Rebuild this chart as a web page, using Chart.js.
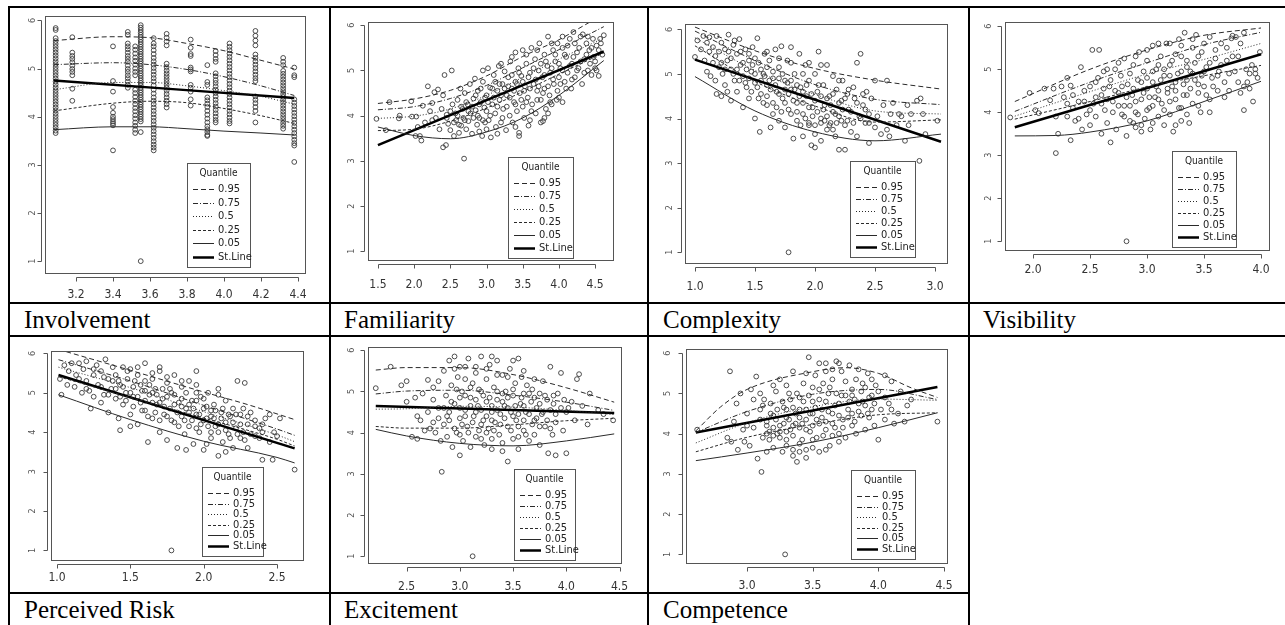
<!DOCTYPE html>
<html><head><meta charset="utf-8">
<script src="https://cdn.jsdelivr.net/npm/chart.js@4/dist/chart.umd.min.js"></script>
<style>
html,body{margin:0;padding:0;background:#fff;}
#page{position:relative;width:1285px;height:625px;overflow:hidden;background:#fff;}
.hl{position:absolute;height:2px;background:#000;}
.vl{position:absolute;width:2px;background:#000;}
.cap{position:absolute;font-family:"Liberation Serif","Times New Roman",serif;font-size:25px;line-height:25px;color:#000;white-space:nowrap;}
canvas{position:absolute;}
</style></head>
<body><div id="page"></div>
<script>
// ---------- labels & ticks ----------
const captions = ['Involvement','Familiarity','Complexity','Visibility','Perceived Risk','Excitement','Competence'];
const quantileLabels = ['0.95','0.75','0.5','0.25','0.05','St.Line'];
const yTicks = [1,2,3,4,5,6];
const invXTicks = [3.2,3.4,3.6,3.8,4.0,4.2,4.4];
const famXTicks = [1.5,2.0,2.5,3.0,3.5,4.0,4.5];
const cpxXTicks = [1.0,1.5,2.0,2.5,3.0];
const visXTicks = [2.0,2.5,3.0,3.5,4.0];
const prXTicks = [1.0,1.5,2.0,2.5];
const excXTicks = [2.5,3.0,3.5,4.0,4.5];
const cmpXTicks = [3.0,3.5,4.0,4.5];

// ---------- Involvement (discrete x stripes: [x, [y...]]) ----------
const involvementStripes = [
 [3.09,[5.84,5.8,5.63,5.57,5.51,5.45,5.39,5.33,5.27,5.21,5.15,5.09,5.03,4.97,4.91,4.85,4.79,4.73,4.67,4.61,4.55,4.49,4.43,4.37,4.31,4.25,4.19,4.13,4.07,4.01,3.95,3.89,3.83,3.77,3.71,3.66]],
 [3.18,[5.65,5.33,5.26,5.2,5.13,5.06,4.99,4.93,4.86,4.58,4.33]],
 [3.40,[5.46,4.74,4.52,4.2,4.08,4.0,3.95,3.9,3.86,3.82,3.3]],
 [3.48,[5.76,5.7,5.52,5.46,5.4,5.33,5.26,5.2,5.14,5.06,4.99,4.93,4.86,4.8,4.73,4.66,4.6]],
 [3.52,[5.46,5.39,5.31,5.23,5.16,5.08,5.0,4.93,4.86,4.56,4.49,4.41,4.33,4.26,4.18,4.11,4.03,3.96,3.88,3.81,3.73,3.66]],
 [3.55,[5.9,5.85,5.8,5.75,5.7,5.65,5.6,5.55,5.5,5.45,5.4,5.35,5.3,5.25,5.2,5.15,5.1,5.05,5.0,4.95,4.9,4.85,4.8,4.75,4.7,4.65,4.6,4.55,4.5,4.45,4.4,4.35,4.3,4.25,4.2,4.15,4.1,4.05,4.0,3.95,3.9,3.68,1.0]],
 [3.62,[5.63,5.52,5.46,5.38,5.3,5.22,5.15,5.08,5.01,4.94,4.87,4.8,4.73,4.65,4.56,4.48,4.4,4.33,4.26,4.19,4.12,4.05,3.98,3.91,3.84,3.77,3.7,3.63,3.56,3.49,3.42,3.36,3.3]],
 [3.69,[5.72,5.64,5.56,5.48,5.1,5.03,4.96,4.9,4.84,4.78,4.72,4.66,4.6,4.54,4.47,4.4,4.33,4.26,4.19]],
 [3.82,[5.6,5.43,5.3,5.26,5.02,4.98,4.94,4.66,4.6,4.52,4.36,4.23]],
 [3.91,[5.07,4.72,4.66,4.4,4.34,4.27,4.2,4.12,4.04,3.96,3.88,3.8,3.74,3.68,3.62,3.6]],
 [3.955,[5.36,5.28,5.2,5.14,4.9,4.84,4.76,4.7,4.63,4.56,4.49,4.42,4.35,4.28,4.21,4.14,4.07,4.0,3.93,3.88]],
 [4.03,[5.52,5.45,5.38,5.31,5.24,5.17,5.1,5.03,4.96,4.89,4.82,4.75,4.68,4.61,4.54,4.47,4.4,4.33,4.26,4.19,4.12,4.05,3.98,3.91,3.86]],
 [4.17,[5.78,5.68,5.58,5.48,5.29,5.22,5.15,5.08,5.01,4.94,4.87,4.8,4.74,4.42,4.35,4.28,4.2,4.12,3.88]],
 [4.32,[5.22,5.14,5.07,4.95,4.89,4.83,4.77,4.71,4.65,4.59,4.53,4.47,4.41,4.35,4.29,4.23,4.17,4.11,4.05,3.99,3.93,3.87,3.81,3.75]],
 [4.38,[5.02,4.86,4.82,4.36,4.29,4.22,4.15,4.08,4.01,3.94,3.87,3.8,3.73,3.66,3.59,3.52,3.45,3.4,3.06]]
];
const invQ95 = [[3.08,5.58],[3.4,5.66],[3.6,5.64],[3.8,5.52],[4.0,5.37],[4.2,5.17],[4.38,4.99]];
const invQ75 = [[3.08,5.08],[3.4,5.12],[3.6,5.08],[3.8,4.98],[4.0,4.83],[4.2,4.64],[4.38,4.44]];
const invQ50 = [[3.08,4.56],[3.4,4.71],[3.6,4.71],[3.8,4.64],[4.0,4.54],[4.2,4.42],[4.38,4.26]];
const invQ25 = [[3.08,4.12],[3.4,4.28],[3.6,4.32],[3.8,4.29],[4.0,4.17],[4.2,4.02],[4.38,3.86]];
const invQ05 = [[3.08,3.73],[3.4,3.79],[3.6,3.79],[3.8,3.75],[4.0,3.7],[4.2,3.66],[4.38,3.62]];
const invSt  = [[3.08,4.75],[4.38,4.39]];

// ---------- Familiarity ----------
const famPoints = [[1.48,3.93],[1.61,3.68],[1.66,4.3],[1.79,3.94],[1.8,4.0],[1.96,4.32],[1.97,3.98],[2.02,3.55],[2.03,3.98],[2.05,3.75],[2.08,3.55],[2.1,3.45],[2.12,4.22],[2.15,3.85],[2.19,4.65],[2.22,4.1],[2.25,4.28],[2.25,3.9],[2.28,4.52],[2.3,3.95],[2.33,4.58],[2.35,3.7],[2.38,4.15],[2.4,4.45],[2.42,4.9],[2.4,3.3],[2.44,3.35],[2.45,4.02],[2.47,3.82],[2.5,3.68],[2.52,5.0],[2.53,4.25],[2.55,3.55],[2.57,4.05],[2.58,3.9],[2.6,4.35],[2.62,3.62],[2.69,3.05],[2.64,4.6],[2.65,3.78],[2.67,4.15],[2.68,3.95],[2.7,4.5],[2.72,3.7],[2.74,4.25],[2.75,3.88],[2.77,4.7],[2.78,4.05],[2.8,3.6],[2.82,4.38],[2.84,4.82],[2.85,4.12],[2.87,3.8],[2.88,4.55],[2.9,3.95],[2.92,4.3],[2.94,3.55],[2.95,4.75],[2.95,5.0],[2.97,4.18],[2.98,3.85],[3.0,4.45],[3.02,5.05],[3.03,3.9],[3.05,4.62],[3.06,3.52],[3.08,4.25],[3.1,4.9],[3.12,4.05],[3.13,3.75],[3.15,4.55],[3.17,5.1],[3.18,4.35],[3.2,3.85],[3.22,4.7],[3.23,4.15],[3.25,4.98],[3.27,3.68],[3.28,4.45],[3.3,4.85],[3.32,4.0],[3.33,5.2],[3.35,4.6],[3.36,3.85],[3.38,4.3],[3.4,5.4],[3.4,4.75],[3.42,4.1],[3.44,5.05],[3.45,3.62],[3.45,3.55],[3.46,4.5],[3.48,4.88],[3.5,5.45],[3.5,4.2],[3.52,3.95],[3.53,4.65],[3.55,5.15],[3.57,4.4],[3.58,3.78],[3.6,4.95],[3.62,5.5],[3.63,4.25],[3.65,4.7],[3.67,5.25],[3.68,4.05],[3.7,4.55],[3.72,5.0],[3.73,5.6],[3.75,4.35],[3.75,3.85],[3.77,4.85],[3.78,3.88],[3.8,5.35],[3.8,4.6],[3.8,3.95],[3.82,4.15],[3.84,5.1],[3.85,5.75],[3.87,4.45],[3.88,4.95],[3.9,4.25],[3.92,5.45],[3.93,4.7],[3.95,5.2],[3.97,4.35],[3.98,5.6],[4.0,4.85],[4.02,5.05],[4.05,4.3],[4.05,5.5],[4.08,4.75],[4.1,5.3],[4.12,4.95],[4.15,5.7],[4.17,4.6],[4.18,5.15],[4.2,5.85],[4.22,4.85],[4.25,5.4],[4.27,5.05],[4.3,5.75],[4.32,4.7],[4.35,5.25],[4.38,5.6],[4.4,5.0],[4.42,5.45],[4.45,4.9],[4.47,5.7],[4.5,5.2],[4.5,5.05],[4.52,5.55],[4.55,4.88],[4.57,5.7],[4.6,5.35],[4.62,5.78],
 [2.45,3.95],[2.5,4.1],[2.55,3.85],[2.6,4.0],[2.62,3.8],[2.65,4.2],[2.7,3.9],[2.72,4.3],[2.75,4.1],[2.8,4.2],[2.82,3.95],[2.85,4.45],[2.88,4.0],[2.9,4.25],[2.92,4.6],[2.95,3.9],[2.98,4.4],[3.0,4.1],[3.0,3.7],[3.02,4.3],[3.05,4.0],[3.08,4.6],[3.1,4.4],[3.12,4.75],[3.15,4.2],[3.18,4.7],[3.2,4.45],[3.22,3.95],[3.25,4.6],[3.28,4.2],[3.3,4.65],[3.32,4.4],[3.35,4.9],[3.38,4.55],[3.4,4.25],[3.42,4.7],[3.45,4.95],[3.48,4.35],[3.5,4.75],[3.52,4.55],[3.55,4.3],[3.58,4.85],[3.6,4.6],[3.62,4.1],[3.65,5.05],[3.68,4.8],[3.7,4.35],[3.72,4.65],[3.75,5.15],[3.78,4.5],[3.8,4.9],[3.82,5.2],[3.85,4.65],[3.88,4.3],[3.9,5.05],[3.92,4.8],[3.95,5.35],[3.98,4.55],[4.0,5.15],[4.02,4.7],[4.05,5.0],[4.08,5.35],[4.1,4.6],[4.12,5.55],[4.15,5.1],[4.18,4.8],[4.2,5.3],[4.22,5.6],[4.25,5.0],[4.28,5.5],[4.3,5.2],[4.33,5.8],[4.35,4.95],[4.38,5.35],[4.4,5.75],[4.43,5.15],[4.45,5.5],[4.48,5.3],[4.52,5.0],[4.55,5.45],[4.58,5.6],[3.2,5.15],[3.35,5.3],[3.55,5.35],[3.7,5.45],[3.9,5.6],[4.05,5.75],[3.6,3.9],[3.4,3.75],[3.15,3.6],[2.9,3.65],[3.85,4.05],[4.0,4.4]];
const famQ95 = [[1.5,4.27],[2.0,4.37],[2.5,4.56],[3.0,4.88],[3.5,5.31],[4.0,5.68],[4.35,6.0],[4.62,6.25]];
const famQ75 = [[1.5,4.13],[2.0,4.2],[2.5,4.38],[3.0,4.67],[3.5,5.06],[4.0,5.46],[4.62,5.97]];
const famQ50 = [[1.5,3.94],[2.0,3.99],[2.5,4.15],[3.0,4.45],[3.5,4.85],[4.0,5.25],[4.62,5.72]];
const famQ25 = [[1.5,3.67],[2.0,3.7],[2.5,3.88],[3.0,4.17],[3.5,4.53],[4.0,4.92],[4.62,5.39]];
const famQ05 = [[1.5,3.75],[2.0,3.56],[2.5,3.49],[3.0,3.64],[3.5,3.95],[4.0,4.45],[4.62,5.22]];
const famSt  = [[1.5,3.35],[4.62,5.42]];

// ---------- Complexity ----------
const cpxPoints = [[1.0,5.38],[1.02,5.75],[1.05,5.55],[1.07,5.85],[1.08,5.3],[1.1,5.7],[1.1,5.05],[1.12,5.82],[1.13,4.95],[1.15,5.6],[1.17,5.4],[1.18,5.85],[1.18,4.55],[1.2,5.15],[1.22,5.7],[1.22,4.5],[1.23,5.0],[1.25,5.55],[1.25,4.75],[1.27,5.3],[1.28,5.88],[1.3,4.4],[1.3,5.1],[1.32,5.65],[1.33,4.85],[1.35,5.45],[1.35,4.6],[1.37,5.78],[1.38,5.2],[1.4,4.95],[1.4,4.25],[1.42,5.55],[1.43,4.7],[1.45,5.3],[1.45,4.45],[1.47,5.05],[1.48,5.6],[1.5,4.8],[1.5,4.0],[1.52,5.8],[1.53,5.25],[1.54,3.7],[1.55,4.55],[1.57,5.0],[1.58,5.45],[1.6,4.3],[1.6,4.75],[1.62,5.3],[1.63,3.8],[1.65,4.9],[1.65,4.1],[1.67,5.55],[1.68,4.6],[1.7,5.15],[1.7,3.95],[1.72,5.62],[1.73,4.45],[1.75,4.85],[1.75,3.8],[1.77,5.3],[1.78,4.2],[1.78,1.0],[1.8,5.6],[1.8,4.65],[1.82,3.55],[1.83,5.0],[1.85,4.35],[1.85,3.95],[1.87,5.45],[1.88,4.7],[1.9,3.6],[1.9,4.1],[1.92,5.2],[1.93,4.5],[1.95,3.85],[1.95,4.85],[1.95,5.25],[1.97,3.4],[1.98,4.25],[2.0,5.0],[2.0,3.65],[2.0,3.35],[2.02,4.6],[2.03,5.5],[2.05,4.0],[2.05,3.5],[2.07,4.75],[2.08,4.3],[2.1,5.2],[2.1,3.75],[2.12,4.5],[2.13,3.9],[2.15,4.95],[2.15,4.15],[2.17,3.6],[2.18,4.65],[2.2,4.05],[2.2,4.85],[2.22,4.4],[2.23,4.85],[2.25,3.85],[2.2,3.3],[2.25,3.3],[2.27,4.55],[2.28,4.2],[2.3,3.7],[2.32,4.7],[2.33,4.45],[2.35,5.25],[2.35,3.6],[2.37,4.05],[2.38,5.45],[2.4,4.3],[2.42,3.9],[2.43,4.6],[2.45,3.45],[2.45,4.1],[2.47,4.45],[2.5,3.8],[2.5,4.85],[2.52,4.05],[2.55,3.65],[2.57,4.3],[2.6,4.85],[2.6,3.75],[2.62,3.6],[2.63,4.1],[2.65,4.35],[2.68,3.85],[2.7,4.1],[2.72,4.05],[2.75,3.5],[2.77,4.3],[2.78,3.85],[2.8,4.1],[2.85,4.4],[2.87,3.05],[2.88,4.45],[2.9,4.1],[2.92,3.65],[3.02,3.95],
 [1.12,5.5],[1.15,5.25],[1.17,4.85],[1.2,5.5],[1.22,5.25],[1.25,5.1],[1.27,4.6],[1.28,5.5],[1.3,5.35],[1.32,5.0],[1.33,5.75],[1.35,5.1],[1.37,4.85],[1.38,5.5],[1.4,5.25],[1.42,4.8],[1.43,5.1],[1.45,5.45],[1.45,4.9],[1.47,4.6],[1.48,5.2],[1.5,5.0],[1.5,5.35],[1.52,4.7],[1.53,4.45],[1.55,5.1],[1.55,4.85],[1.57,4.35],[1.58,4.95],[1.6,5.15],[1.6,4.5],[1.62,4.85],[1.63,4.65],[1.65,4.35],[1.65,5.05],[1.67,4.75],[1.68,4.25],[1.7,4.9],[1.7,4.55],[1.72,4.15],[1.73,5.0],[1.75,4.65],[1.75,4.35],[1.77,4.8],[1.78,4.55],[1.8,4.1],[1.8,4.85],[1.82,4.4],[1.83,4.65],[1.85,4.75],[1.85,4.15],[1.87,4.5],[1.88,3.85],[1.9,4.6],[1.9,4.35],[1.92,4.0],[1.93,4.75],[1.95,4.25],[1.95,3.9],[1.97,4.55],[1.98,4.05],[2.0,4.4],[2.0,3.85],[2.02,4.15],[2.03,4.75],[2.05,4.5],[2.05,3.9],[2.07,4.2],[2.08,3.95],[2.1,4.45],[2.1,4.05],[2.12,3.85],[2.13,4.3],[2.15,3.75],[2.15,4.55],[2.17,4.1],[2.18,3.9],[2.2,4.35],[2.22,3.95],[2.23,4.2],[2.25,4.45],[2.27,3.95],[2.28,4.65],[2.3,4.15],[2.32,3.9],[2.35,4.35],[2.38,4.0],[2.4,4.55],[2.42,4.2],[2.45,3.9],[1.6,5.5],[1.7,5.35],[1.8,5.25],[1.9,5.0],[2.05,5.2]];
const cpxQ95 = [[1.0,6.05],[1.5,5.52],[2.0,5.12],[2.5,4.86],[3.05,4.66]];
const cpxQ75 = [[1.0,5.96],[1.5,5.3],[2.0,4.76],[2.5,4.43],[3.05,4.31]];
const cpxQ50 = [[1.0,5.81],[1.5,5.08],[2.0,4.54],[2.5,4.17],[3.05,4.1]];
const cpxQ25 = [[1.0,5.63],[1.5,4.83],[2.0,4.28],[2.5,3.92],[3.05,3.97]];
const cpxQ05 = [[1.0,4.94],[1.5,4.17],[2.0,3.7],[2.5,3.5],[3.05,3.65]];
const cpxSt  = [[1.0,5.32],[3.05,3.48]];

// ---------- Visibility ----------
const visPoints = [[1.8,3.88],[1.97,4.45],[2.02,4.05],[2.05,3.98],[2.1,4.55],[2.15,4.28],[2.18,4.55],[2.2,3.9],[2.2,3.05],[2.22,3.5],[2.25,4.6],[2.27,4.35],[2.3,4.8],[2.3,3.9],[2.33,3.35],[2.33,4.62],[2.35,4.1],[2.37,3.8],[2.4,4.25],[2.42,5.05],[2.43,3.6],[2.45,4.5],[2.47,3.95],[2.5,4.6],[2.5,3.7],[2.52,5.45],[2.53,4.2],[2.55,3.9],[2.57,4.8],[2.58,5.45],[2.6,3.5],[2.6,4.4],[2.62,4.95],[2.63,4.05],[2.65,3.75],[2.67,4.6],[2.68,3.3],[2.7,4.25],[2.72,5.0],[2.73,3.6],[2.75,4.45],[2.77,4.85],[2.78,3.95],[2.8,5.25],[2.8,4.15],[2.82,1.0],[2.82,3.45],[2.83,4.65],[2.85,3.8],[2.87,4.4],[2.88,5.1],[2.9,4.0],[2.9,3.65],[2.92,4.75],[2.93,5.4],[2.95,4.3],[2.95,3.55],[2.97,4.95],[2.98,3.85],[3.0,4.55],[3.0,5.2],[3.02,4.1],[3.03,3.6],[3.05,5.55],[3.05,4.7],[3.07,4.35],[3.08,5.0],[3.1,3.9],[3.1,4.5],[3.12,5.3],[3.13,4.2],[3.15,3.7],[3.15,4.85],[3.17,5.6],[3.18,4.45],[3.2,5.1],[3.2,3.95],[3.22,4.6],[3.23,3.55],[3.25,5.35],[3.25,4.3],[3.27,4.9],[3.28,5.7],[3.3,4.1],[3.3,3.8],[3.32,4.65],[3.33,5.85],[3.35,5.2],[3.35,4.4],[3.37,3.75],[3.38,4.95],[3.4,5.5],[3.4,4.2],[3.42,4.75],[3.43,5.8],[3.45,4.45],[3.45,5.3],[3.47,4.0],[3.48,4.85],[3.5,5.6],[3.5,4.6],[3.52,5.05],[3.55,4.3],[3.55,5.75],[3.55,4.0],[3.57,4.8],[3.6,5.25],[3.62,4.5],[3.63,4.95],[3.65,5.6],[3.68,4.7],[3.7,5.2],[3.72,4.5],[3.74,5.72],[3.75,5.78],[3.77,4.95],[3.78,5.75],[3.8,5.3],[3.82,4.45],[3.85,5.85],[3.85,4.05],[3.87,5.0],[3.88,4.7],[3.9,4.55],[3.92,5.1],[3.93,4.25],[3.95,4.9],[3.97,4.8],[3.99,5.4],
 [2.6,4.2],[2.62,4.55],[2.65,4.3],[2.68,4.75],[2.7,4.0],[2.72,4.5],[2.75,4.15],[2.78,4.6],[2.8,3.9],[2.82,4.35],[2.85,4.9],[2.85,4.15],[2.88,4.55],[2.9,4.25],[2.92,3.95],[2.95,4.7],[2.97,4.45],[3.0,4.05],[3.0,4.8],[3.02,4.35],[3.05,4.95],[3.05,4.15],[3.08,4.6],[3.1,5.1],[3.1,4.3],[3.12,4.75],[3.15,4.05],[3.15,5.0],[3.18,4.55],[3.2,4.85],[3.2,4.25],[3.22,5.2],[3.25,4.7],[3.25,4.5],[3.28,4.1],[3.3,4.95],[3.3,5.3],[3.32,4.4],[3.35,4.75],[3.35,5.05],[3.38,4.55],[3.4,4.9],[3.42,5.15],[3.45,4.65],[3.48,5.4],[3.5,4.95],[3.52,4.4],[3.55,5.15],[3.58,4.6],[3.6,5.45],[3.62,4.85],[3.65,5.1],[3.68,4.35],[3.7,5.5],[3.72,4.9],[3.75,5.3],[3.8,4.7],[3.82,5.6],[3.85,4.6],[3.9,4.9],[3.95,5.0],[2.55,4.35],[2.5,4.05],[2.45,4.25],[2.4,3.85],[2.35,4.4],[2.3,4.2],[2.55,4.7],[2.65,5.0],[2.75,5.15],[2.9,5.3],[3.0,5.45],[3.1,5.6],[3.2,5.6],[3.3,5.55],[3.4,5.7],[2.95,3.7],[3.05,3.75],[3.25,3.7],[3.35,3.95],[3.45,4.15],[2.88,3.75]];
const visQ95 = [[1.84,4.25],[2.5,5.0],[3.0,5.45],[3.5,5.79],[4.0,5.96]];
const visQ75 = [[1.84,4.02],[2.5,4.7],[3.0,5.15],[3.5,5.57],[4.0,5.86]];
const visQ50 = [[1.84,3.91],[2.5,4.48],[3.0,4.89],[3.5,5.23],[4.0,5.6]];
const visQ25 = [[1.84,3.84],[2.5,4.25],[3.0,4.59],[3.5,4.85],[4.0,5.09]];
const visQ05 = [[1.84,3.45],[2.2,3.46],[2.5,3.54],[3.0,3.8],[3.5,4.25],[4.0,4.72]];
const visSt  = [[1.84,3.65],[4.0,5.35]];

// ---------- Perceived Risk ----------
const prPoints = [[1.02,5.35],[1.03,4.95],[1.05,5.7],[1.07,5.2],[1.08,5.55],[1.1,5.75],[1.12,5.15],[1.13,5.45],[1.15,5.75],[1.17,5.0],[1.18,5.6],[1.2,5.3],[1.2,5.8],[1.22,5.05],[1.23,4.6],[1.25,5.45],[1.25,4.9],[1.27,5.7],[1.28,5.2],[1.3,4.75],[1.3,5.55],[1.32,4.95],[1.33,5.85],[1.35,5.35],[1.35,4.5],[1.37,5.1],[1.38,5.65],[1.4,4.85],[1.4,5.45],[1.42,4.35],[1.43,5.2],[1.43,4.05],[1.45,5.65],[1.45,4.7],[1.47,5.0],[1.48,5.35],[1.5,4.45],[1.5,5.6],[1.5,4.15],[1.52,4.9],[1.52,5.15],[1.55,4.2],[1.55,5.45],[1.57,4.75],[1.58,5.05],[1.6,5.3],[1.6,4.55],[1.6,5.75],[1.62,3.75],[1.63,4.95],[1.65,5.5],[1.65,4.35],[1.67,5.1],[1.68,4.7],[1.7,4.0],[1.7,5.55],[1.7,5.65],[1.72,4.85],[1.73,4.45],[1.75,5.25],[1.75,3.8],[1.77,4.6],[1.78,1.0],[1.78,5.0],[1.8,4.25],[1.8,5.45],[1.82,3.6],[1.83,4.75],[1.85,4.4],[1.85,5.15],[1.87,3.95],[1.88,4.6],[1.88,3.55],[1.9,5.3],[1.9,4.15],[1.92,4.8],[1.93,3.7],[1.95,4.45],[1.95,5.55],[1.95,5.2],[1.97,4.0],[1.98,4.9],[2.0,4.3],[2.0,3.55],[2.02,4.65],[2.02,3.7],[2.03,5.0],[2.05,3.85],[2.05,4.4],[2.07,4.7],[2.08,4.15],[2.1,4.95],[2.1,5.1],[2.1,3.4],[2.12,4.5],[2.13,3.75],[2.15,4.25],[2.15,4.8],[2.15,3.5],[2.17,3.95],[2.18,4.4],[2.2,3.6],[2.2,4.6],[2.22,4.1],[2.23,5.3],[2.25,3.85],[2.25,4.45],[2.27,4.0],[2.28,5.25],[2.3,4.2],[2.3,3.6],[2.32,4.5],[2.35,3.9],[2.35,4.15],[2.38,4.1],[2.4,3.3],[2.4,4.0],[2.42,4.35],[2.45,3.75],[2.45,4.45],[2.47,3.3],[2.48,4.0],[2.5,3.9],[2.52,4.35],[2.62,3.05],
 [1.4,5.1],[1.42,5.3],[1.43,4.9],[1.45,5.15],[1.47,4.8],[1.48,5.55],[1.5,5.0],[1.52,4.65],[1.53,5.3],[1.55,4.9],[1.57,5.2],[1.58,4.55],[1.6,4.8],[1.6,5.05],[1.62,4.4],[1.63,5.2],[1.65,4.75],[1.65,5.0],[1.67,4.5],[1.68,4.95],[1.7,4.3],[1.7,4.75],[1.72,5.1],[1.73,4.65],[1.75,4.4],[1.75,4.9],[1.77,5.1],[1.78,4.3],[1.8,4.7],[1.8,4.95],[1.82,4.5],[1.83,4.15],[1.85,4.65],[1.85,4.85],[1.87,4.3],[1.88,5.0],[1.9,4.5],[1.9,4.7],[1.92,4.3],[1.93,4.6],[1.95,4.1],[1.95,4.8],[1.97,4.45],[1.98,4.2],[2.0,4.6],[2.0,4.85],[2.02,4.35],[2.03,4.15],[2.05,4.55],[2.05,4.0],[2.07,4.35],[2.08,4.55],[2.1,4.2],[2.1,4.0],[2.12,4.35],[2.13,4.6],[2.15,4.05],[2.17,4.45],[2.18,3.85],[2.2,4.25],[2.22,4.45],[2.23,3.95],[2.25,4.2],[2.27,4.6],[2.28,3.8],[2.3,4.4],[2.32,3.95],[2.35,4.3],[2.38,3.85],[2.4,4.2],[1.3,5.15],[1.32,5.4],[1.35,4.95],[1.25,5.6],[1.2,5.1],[1.15,5.35],[1.38,5.3],[1.55,5.65],[1.65,5.35],[1.75,5.4],[1.85,5.3],[1.95,5.0]];
const prQ95 = [[1.01,6.1],[1.5,5.57],[2.0,5.02],[2.3,4.7],[2.62,4.32]];
const prQ75 = [[1.01,5.84],[1.5,5.3],[2.0,4.68],[2.5,4.08],[2.62,3.92]];
const prQ50 = [[1.01,5.65],[1.5,5.13],[2.0,4.52],[2.5,3.93],[2.62,3.76]];
const prQ25 = [[1.01,5.41],[1.5,4.88],[2.0,4.36],[2.5,3.82],[2.62,3.65]];
const prQ05 = [[1.01,4.95],[1.5,4.32],[2.0,3.77],[2.5,3.36],[2.62,3.22]];
const prSt  = [[1.01,5.45],[2.62,3.59]];

// ---------- Excitement ----------
const excPoints = [[2.21,5.08],[2.35,5.6],[2.45,5.15],[2.5,5.25],[2.5,4.75],[2.55,3.9],[2.58,4.85],[2.6,4.4],[2.6,3.85],[2.63,4.3],[2.65,4.95],[2.67,4.05],[2.7,5.28],[2.7,4.5],[2.72,4.1],[2.75,5.1],[2.75,4.25],[2.77,4.0],[2.8,5.25],[2.8,4.6],[2.82,3.8],[2.83,3.05],[2.85,5.5],[2.85,4.2],[2.87,4.9],[2.88,3.9],[2.9,5.75],[2.9,4.5],[2.92,5.15],[2.93,3.65],[2.95,5.85],[2.95,4.7],[2.97,4.0],[2.98,5.35],[3.0,4.35],[3.0,3.45],[3.0,5.6],[3.02,5.0],[3.03,3.8],[3.05,5.6],[3.05,4.55],[3.07,4.15],[3.08,5.8],[3.1,4.85],[3.1,3.65],[3.12,1.0],[3.12,5.2],[3.13,4.4],[3.15,3.9],[3.15,5.45],[3.17,4.65],[3.18,4.05],[3.2,5.85],[3.2,5.0],[3.22,4.3],[3.23,3.7],[3.25,5.3],[3.25,4.75],[3.27,4.1],[3.28,5.65],[3.3,4.5],[3.3,3.85],[3.3,5.85],[3.32,5.1],[3.33,4.25],[3.35,5.75],[3.35,4.8],[3.37,3.95],[3.38,4.45],[3.4,5.4],[3.4,3.55],[3.42,4.65],[3.43,5.0],[3.45,4.15],[3.45,3.3],[3.47,5.55],[3.48,4.5],[3.5,3.85],[3.5,4.9],[3.5,5.75],[3.52,5.2],[3.53,4.3],[3.55,5.8],[3.55,3.6],[3.57,4.7],[3.58,5.35],[3.6,4.05],[3.6,4.95],[3.62,4.5],[3.63,5.15],[3.65,3.8],[3.67,4.75],[3.68,5.05],[3.7,4.3],[3.7,3.95],[3.72,4.6],[3.75,4.95],[3.75,3.7],[3.77,4.45],[3.78,5.25],[3.8,4.15],[3.82,4.8],[3.83,3.5],[3.85,5.6],[3.85,4.55],[3.87,3.95],[3.88,4.9],[3.9,4.45],[3.9,3.45],[3.92,4.95],[3.95,4.6],[3.95,5.45],[3.97,4.05],[3.98,4.8],[4.0,3.5],[4.0,4.5],[4.02,4.6],[4.05,4.75],[4.08,4.3],[4.1,5.3],[4.12,5.42],[4.15,4.65],[4.2,4.2],[4.22,4.95],[4.3,4.55],[4.35,4.45],[4.44,4.3],
 [2.9,4.3],[2.92,4.75],[2.95,4.1],[2.97,5.05],[3.0,4.6],[3.0,4.85],[3.02,4.2],[3.05,4.9],[3.05,4.4],[3.08,4.0],[3.1,4.65],[3.1,5.1],[3.12,4.25],[3.15,4.8],[3.15,4.5],[3.18,5.05],[3.2,4.2],[3.2,4.55],[3.22,4.9],[3.25,4.0],[3.25,4.4],[3.28,4.85],[3.3,4.65],[3.3,4.3],[3.32,4.05],[3.35,4.55],[3.35,5.0],[3.38,4.2],[3.4,4.75],[3.4,4.95],[3.42,4.35],[3.45,4.85],[3.45,4.6],[3.48,4.05],[3.5,4.4],[3.5,5.05],[3.52,4.65],[3.55,4.15],[3.55,4.45],[3.58,4.85],[3.6,4.3],[3.6,4.65],[3.62,3.95],[3.65,4.45],[3.65,4.95],[3.68,4.2],[3.7,4.85],[3.72,4.35],[3.75,4.15],[3.75,4.7],[3.78,4.5],[3.8,4.9],[3.82,4.3],[3.85,4.1],[3.88,4.7],[3.9,4.25],[2.85,4.6],[2.88,4.4],[2.8,4.35],[2.75,4.8],[3.15,5.6],[3.25,5.55],[3.35,5.4],[3.45,5.35],[3.6,5.5],[3.7,5.3],[3.05,5.3],[2.95,5.55],[3.4,3.75],[3.2,3.85],[3.55,3.9],[3.3,3.6],[3.0,3.95]];
const excQ95 = [[2.21,5.52],[2.5,5.58],[3.0,5.58],[3.5,5.41],[4.0,5.09],[4.45,4.74]];
const excQ75 = [[2.21,4.94],[2.5,5.01],[3.0,5.03],[3.5,4.91],[4.0,4.74],[4.45,4.54]];
const excQ50 = [[2.21,4.57],[2.5,4.58],[3.0,4.64],[3.5,4.62],[4.0,4.54],[4.45,4.44]];
const excQ25 = [[2.21,4.15],[2.5,4.11],[3.0,4.11],[3.5,4.19],[4.0,4.29],[4.45,4.35]];
const excQ05 = [[2.21,4.08],[2.5,3.92],[3.0,3.74],[3.5,3.68],[4.0,3.8],[4.45,3.97]];
const excSt  = [[2.21,4.65],[4.45,4.48]];

// ---------- Competence ----------
const cmpPoints = [[2.62,4.1],[2.85,3.9],[2.87,5.55],[2.88,3.8],[2.9,4.3],[2.92,4.75],[2.93,3.6],[2.95,5.0],[2.97,4.1],[2.98,3.8],[3.0,4.5],[3.02,3.7],[3.03,5.1],[3.05,4.15],[3.07,5.42],[3.08,3.38],[3.1,4.6],[3.11,3.05],[3.12,3.9],[3.13,4.85],[3.15,4.3],[3.15,3.55],[3.15,4.0],[3.17,4.05],[3.18,4.75],[3.2,3.65],[3.2,4.45],[3.2,4.15],[3.22,5.05],[3.23,4.0],[3.25,5.35],[3.25,4.2],[3.25,3.9],[3.27,3.55],[3.28,4.65],[3.29,1.0],[3.3,3.85],[3.3,4.4],[3.3,4.05],[3.32,5.0],[3.33,4.1],[3.35,5.55],[3.35,3.45],[3.35,4.2],[3.37,4.5],[3.38,3.3],[3.4,4.9],[3.4,3.75],[3.4,4.4],[3.42,4.25],[3.43,5.25],[3.45,3.6],[3.45,4.6],[3.45,4.1],[3.47,5.9],[3.48,4.05],[3.5,4.8],[3.5,3.85],[3.5,4.5],[3.52,5.45],[3.53,4.35],[3.55,3.55],[3.55,5.1],[3.55,4.25],[3.57,4.6],[3.58,3.95],[3.6,5.75],[3.6,4.3],[3.6,3.6],[3.62,5.0],[3.63,3.7],[3.65,4.5],[3.65,5.35],[3.65,3.95],[3.67,4.15],[3.68,5.8],[3.7,4.75],[3.7,3.8],[3.7,4.0],[3.72,5.55],[3.73,4.35],[3.75,4.95],[3.75,3.9],[3.77,4.6],[3.78,5.7],[3.8,4.2],[3.8,5.1],[3.8,4.5],[3.82,4.85],[3.83,4.0],[3.85,5.6],[3.85,4.75],[3.87,4.45],[3.88,5.25],[3.9,4.1],[3.9,4.7],[3.92,5.5],[3.93,4.4],[3.95,4.95],[3.95,4.6],[3.97,4.2],[3.98,5.2],[4.0,3.85],[4.02,4.6],[4.05,5.45],[4.05,4.35],[4.08,4.75],[4.1,5.3],[4.12,4.25],[4.15,4.5],[4.17,5.05],[4.2,4.3],[4.22,4.7],[4.25,4.85],[4.45,4.3],
 [3.15,4.2],[3.17,3.85],[3.18,4.5],[3.2,3.95],[3.22,4.35],[3.23,4.6],[3.25,4.05],[3.27,4.8],[3.28,4.25],[3.3,4.6],[3.3,3.7],[3.32,4.35],[3.33,4.85],[3.35,3.95],[3.35,4.65],[3.37,4.25],[3.38,5.0],[3.4,4.15],[3.4,4.6],[3.42,3.85],[3.43,4.8],[3.45,4.35],[3.47,4.95],[3.48,4.5],[3.5,4.2],[3.5,5.15],[3.52,4.65],[3.53,3.9],[3.55,4.85],[3.57,4.4],[3.58,5.25],[3.6,4.1],[3.6,4.8],[3.62,4.55],[3.63,5.15],[3.65,4.25],[3.67,4.7],[3.68,5.0],[3.7,4.45],[3.72,4.95],[3.73,4.15],[3.75,5.3],[3.77,4.4],[3.78,4.8],[3.8,4.95],[3.82,4.3],[3.83,5.35],[3.85,4.55],[3.87,5.05],[3.88,4.8],[3.9,5.15],[3.92,4.5],[3.93,4.9],[3.95,5.35],[3.97,4.75],[3.6,5.55],[3.55,5.75],[3.65,5.6],[3.7,5.75],[3.45,5.5],[3.3,5.2],[3.2,5.2],[3.1,5.0],[3.05,4.85],[3.0,4.2],[3.1,4.35],[3.12,4.7],[4.0,5.05],[4.05,4.9],[4.1,4.6],[3.4,3.55],[3.5,3.65],[3.45,3.4],[3.35,3.6]];
const cmpQ95 = [[2.61,4.07],[2.8,4.67],[3.0,5.1],[3.5,5.54],[3.75,5.64],[4.0,5.5],[4.25,5.14],[4.45,4.9]];
const cmpQ75 = [[2.61,4.03],[3.0,4.55],[3.5,4.98],[4.0,5.1],[4.45,4.85]];
const cmpQ50 = [[2.61,3.77],[3.0,4.27],[3.5,4.67],[4.0,4.86],[4.45,4.83]];
const cmpQ25 = [[2.61,3.55],[3.0,3.91],[3.5,4.23],[4.0,4.47],[4.45,4.52]];
const cmpQ05 = [[2.61,3.33],[3.0,3.52],[3.5,3.79],[4.0,4.15],[4.45,4.52]];
const cmpSt  = [[2.61,4.03],[4.45,5.16]];

// ---------- layout (page pixel geometry, separate from data) ----------
const FAMILY = '"Liberation Sans Narrow","DejaVu Sans","Liberation Sans",sans-serif';
const STRETCH = 'condensed';
const layout = [
 {box:[45,13,305,273],  x:[3.0324,4.438], y:[0.754,6.082], xLab:22, yLab:13, legend:[187,163,250,267]},
 {box:[368,15,613,260], x:[1.363,4.747],  y:[0.807,6.064], xLab:25, yLab:17, legend:[508,157,573,258]},
 {box:[685,18,947,263], x:[0.917,3.1],    y:[0.76,6.11],   xLab:24, yLab:16, legend:[850,161,915,257]},
 {box:[1005,15,1269,250],x:[1.754,4.07],  y:[0.797,6.09],  xLab:20, yLab:17, legend:[1172,151,1236,247]},
 {box:[51,342,303,560], x:[0.959,2.677],  y:[0.757,6.05],  xLab:18, yLab:19, legend:[202,467,263,556]},
 {box:[368,340,623,563],x:[2.137,4.51],   y:[0.836,6.07],  xLab:24, yLab:17, legend:[514,469,575,560]},
 {box:[686,340,947,563],x:[2.535,4.523],  y:[0.786,6.095], xLab:23, yLab:19, legend:[851,470,915,559]}
];
const capPos = [[24,307],[344,307],[663,307],[983,307],[24,597],[344,597],[663,597]];

const page = document.getElementById('page');
function line(cls, l, t, len){ const d=document.createElement('div'); d.className=cls; d.style.left=l+'px'; d.style.top=t+'px'; if(cls==='hl') d.style.width=len+'px'; else d.style.height=len+'px'; page.appendChild(d); }
line('hl',8,6,1277); line('hl',8,302,1277); line('hl',8,335,1277); line('hl',8,592,962);
line('vl',8,6,619); line('vl',329,6,619); line('vl',647,6,619); line('vl',968,6,619);
captions.forEach((c,i)=>{ const d=document.createElement('div'); d.className='cap'; d.textContent=c; d.style.left=capPos[i][0]+'px'; d.style.top=capPos[i][1]+'px'; page.appendChild(d); });

const lineStyles = [
 {dash:[5,3], w:1, c:'#2a2a2a'}, {dash:[5,2,1,2], w:1, c:'#2a2a2a'}, {dash:[1,2], w:1, c:'#2a2a2a'},
 {dash:[3,2], w:1, c:'#2a2a2a'}, {dash:[], w:1, c:'#2a2a2a'}, {dash:[], w:2.5, c:'#000'}
];

const rPlot = {
  id:'rPlot',
  afterDraw(chart, args, o){
    const ctx = chart.ctx, a = chart.chartArea, xs = chart.scales.x, ys = chart.scales.y;
    ctx.save();
    ctx.setLineDash([]); ctx.strokeStyle = '#555'; ctx.lineWidth = 1;
    ctx.strokeRect(Math.round(a.left)+0.5, Math.round(a.top)+0.5, Math.round(a.right-a.left), Math.round(a.bottom-a.top));
    const gap = 4, tl = 4;
    const xp = xs.ticks.map(t => Math.round(xs.getPixelForValue(t.value))+0.5);
    const yb = Math.round(a.bottom)+gap+0.5;
    ctx.beginPath();
    ctx.moveTo(xp[0], yb); ctx.lineTo(xp[xp.length-1], yb);
    xp.forEach(p => { ctx.moveTo(p, yb); ctx.lineTo(p, yb+tl); });
    const yp = ys.ticks.map(t => Math.round(ys.getPixelForValue(t.value))+0.5);
    const xl = Math.round(a.left)-gap+0.5;
    ctx.moveTo(xl, yp[0]); ctx.lineTo(xl, yp[yp.length-1]);
    yp.forEach(p => { ctx.moveTo(xl, p); ctx.lineTo(xl-tl, p); });
    ctx.stroke();
    const [l,t,r,b] = o.rect;
    ctx.fillStyle = '#fff'; ctx.fillRect(l, t, r-l, b-t);
    ctx.strokeStyle = '#555'; ctx.strokeRect(l+0.5, t+0.5, r-l, b-t);
    ctx.fillStyle = '#222'; ctx.textBaseline = 'middle'; ctx.textAlign = 'center';
    ctx.font = STRETCH + ' 10px ' + FAMILY;
    ctx.fillText('Quantile', (l+r)/2, t+10);
    const items = chart.data.datasets.filter(d => quantileLabels.includes(d.label));
    const y0 = t+26, y1 = b-10, step = (y1-y0)/(items.length-1);
    ctx.textAlign = 'left'; ctx.font = STRETCH + ' 11px ' + FAMILY;
    items.forEach((d,i) => {
      const y = Math.round(y0+i*step)+0.5;
      ctx.beginPath(); ctx.setLineDash(d.borderDash); ctx.lineWidth = d.borderWidth; ctx.strokeStyle = d.borderColor;
      ctx.moveTo(l+6, y); ctx.lineTo(l+27, y); ctx.stroke();
      ctx.setLineDash([]);
      ctx.fillText(d.label, l+31, y);
    });
    ctx.restore();
  }
};

const YW = 32, XH = 34;
function makeChart(g, pts, curves, xTicks){
  const L = g.box[0]-45, T = g.box[1]-12, R = g.box[2]+22, B = g.box[3]+38;
  const cv = document.createElement('canvas');
  cv.width = R-L; cv.height = B-T;
  cv.style.left = L+'px'; cv.style.top = T+'px';
  cv.style.width = (R-L)+'px'; cv.style.height = (B-T)+'px';
  page.appendChild(cv);
  const datasets = curves.map((c,i) => ({
    type:'line', label: quantileLabels[i], data: c.map(([x,y]) => ({x,y})),
    borderColor: lineStyles[i].c, borderWidth: lineStyles[i].w, borderDash: lineStyles[i].dash,
    pointRadius:0, pointHoverRadius:0, fill:false, cubicInterpolationMode:'monotone', order:0
  }));
  datasets.push({
    type:'scatter', label:'obs', data: pts.map(([x,y]) => ({x,y})),
    pointRadius:2.4, pointHoverRadius:2.4, pointBorderWidth:0.9,
    borderColor:'#3a3a3a', backgroundColor:'rgba(0,0,0,0)', showLine:false, order:1
  });
  new Chart(cv, {
    type:'scatter',
    data:{datasets},
    options:{
      responsive:false, animation:false, devicePixelRatio:1, events:[],
      layout:{padding:{left:45-YW, top:12, right:22, bottom:38-XH}},
      plugins:{legend:{display:false}, tooltip:{enabled:false},
        rPlot:{rect:[g.legend[0]-L, g.legend[1]-T, g.legend[2]-L, g.legend[3]-T]}},
      scales:{
        x:{type:'linear', min:g.x[0], max:g.x[1],
          afterFit: s => { s.height = XH; },
          afterBuildTicks: s => { s.ticks = xTicks.map(v => ({value:v})); },
          grid:{display:false, drawTicks:false}, border:{display:false},
          ticks:{autoSkip:false, maxRotation:0, minRotation:0, padding:g.xLab-7.2, color:'#333',
            font:{family:FAMILY, size:12, weight:STRETCH}, callback: v => Number(v).toFixed(1)}},
        y:{type:'linear', min:g.y[0], max:g.y[1],
          afterFit: s => { s.width = YW; },
          afterBuildTicks: s => { s.ticks = yTicks.map(v => ({value:v})); },
          grid:{display:false, drawTicks:false}, border:{display:false},
          ticks:{autoSkip:false, minRotation:90, maxRotation:90, crossAlign:'center', padding:g.yLab-3, color:'#555',
            font:{family:FAMILY, size:9, weight:STRETCH}, callback: v => String(v)}}
      }
    },
    plugins:[rPlot]
  });
}

const invPoints = [];
involvementStripes.forEach(([x, ys]) => ys.forEach(y => invPoints.push([x, y])));

makeChart(layout[0], invPoints, [invQ95,invQ75,invQ50,invQ25,invQ05,invSt], invXTicks);
makeChart(layout[1], famPoints, [famQ95,famQ75,famQ50,famQ25,famQ05,famSt], famXTicks);
makeChart(layout[2], cpxPoints, [cpxQ95,cpxQ75,cpxQ50,cpxQ25,cpxQ05,cpxSt], cpxXTicks);
makeChart(layout[3], visPoints, [visQ95,visQ75,visQ50,visQ25,visQ05,visSt], visXTicks);
makeChart(layout[4], prPoints,  [prQ95,prQ75,prQ50,prQ25,prQ05,prSt], prXTicks);
makeChart(layout[5], excPoints, [excQ95,excQ75,excQ50,excQ25,excQ05,excSt], excXTicks);
makeChart(layout[6], cmpPoints, [cmpQ95,cmpQ75,cmpQ50,cmpQ25,cmpQ05,cmpSt], cmpXTicks);
</script>
</body></html>
